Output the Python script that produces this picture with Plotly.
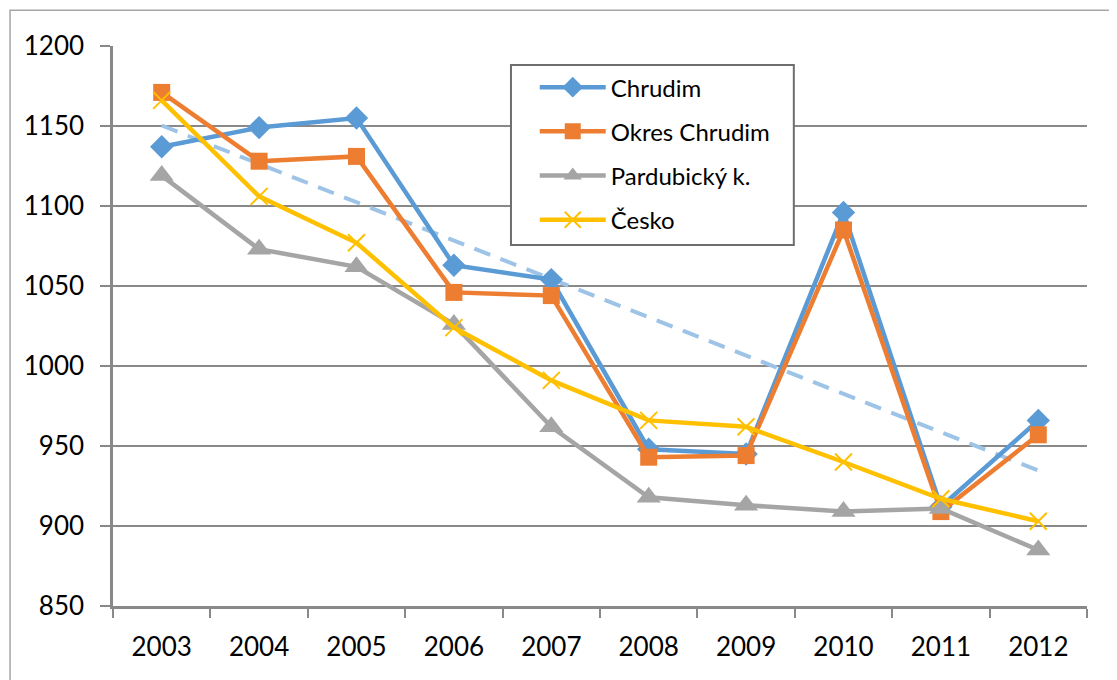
import numpy as np
import plotly.graph_objects as go

years = ['2003', '2004', '2005', '2006', '2007', '2008', '2009', '2010', '2011', '2012']
chrudim = [1137, 1149, 1155, 1063, 1054, 948, 945, 1096, 912, 966]
okres_chrudim = [1171, 1128, 1131, 1046, 1044, 943, 944, 1085, 909, 957]
pardubicky = [1119, 1073, 1062, 1026, 962, 918, 913, 909, 911, 885]
cesko = [1166, 1106, 1077, 1024, 991, 966, 962, 940, 917, 903]

y_ticks = [850, 900, 950, 1000, 1050, 1100, 1150, 1200]

# linear trendline of Chrudim, like the Excel one
idx = np.arange(len(years))
slope, intercept = np.polyfit(idx, chrudim, 1)
trend = intercept + slope * idx

grid = '#898989'
font = 'Lato, Carlito, Calibri, sans-serif'

fig = go.Figure()
fig.add_trace(go.Scatter(x=years, y=trend, mode='lines', showlegend=False,
                         line=dict(color='#9DC3E6', width=4, dash='17px,11px')))

series = [
    ('Chrudim', chrudim, '#5B9BD5', 'diamond', 18),
    ('Okres Chrudim', okres_chrudim, '#ED7D31', 'square', 17),
    ('Pardubický k.', pardubicky, '#A5A5A5', 'triangle-up', 21),
    ('Česko', cesko, '#FFC000', 'x-thin', 17),
]
for name, vals, color, symbol, size in series:
    fig.add_trace(go.Scatter(
        x=years, y=vals, mode='lines+markers', name=name, legendgroup=name,
        line=dict(color=color, width=4.5),
        marker=dict(symbol=symbol, size=size, color=color,
                    line=dict(color=color, width=2 if symbol == 'x-thin' else 0))))

# page body adds 8px, so margins are 8px smaller than the screenshot positions
fig.update_layout(
    width=1117, height=680,
    margin=dict(l=105, r=38, t=38, b=82),
    paper_bgcolor='white', plot_bgcolor='white',
    font=dict(family=font, size=26, color='black'),
    showlegend=True,
    legend=dict(x=0.433, y=0.966, xanchor='left', yanchor='top',
                bgcolor='rgba(0,0,0,0)', borderwidth=0,
                font=dict(size=24), tracegroupgap=10, itemwidth=66),
    shapes=[
        dict(type='rect', xref='paper', yref='paper', x0=-0.1057, x1=1.2,
             y0=-0.3, y1=1.064, line=dict(color='#A6A6A6', width=1.5)),
        dict(type='rect', xref='paper', yref='paper', layer='above',
             x0=0.4086, x1=0.699, y0=0.6446, y1=0.966,
             fillcolor='white', line=dict(color='#6E6E6E', width=2)),
    ],
)
fig.update_xaxes(type='category', range=[-0.5, 9.5], automargin=False,
                 showline=True, linecolor=grid, linewidth=2.5,
                 ticks='outside', tickson='boundaries', ticklen=9, tickwidth=2,
                 tickcolor=grid, showgrid=False, ticklabelstandoff=16)
fig.update_yaxes(range=[850, 1200], tickvals=y_ticks, automargin=False,
                 showline=True, linecolor=grid,
                 linewidth=2.5, ticks='outside', ticklen=10, tickwidth=2,
                 tickcolor=grid, showgrid=True, gridcolor=grid, gridwidth=2,
                 zeroline=False, ticklabelstandoff=11)

fig.write_html("out.html")
